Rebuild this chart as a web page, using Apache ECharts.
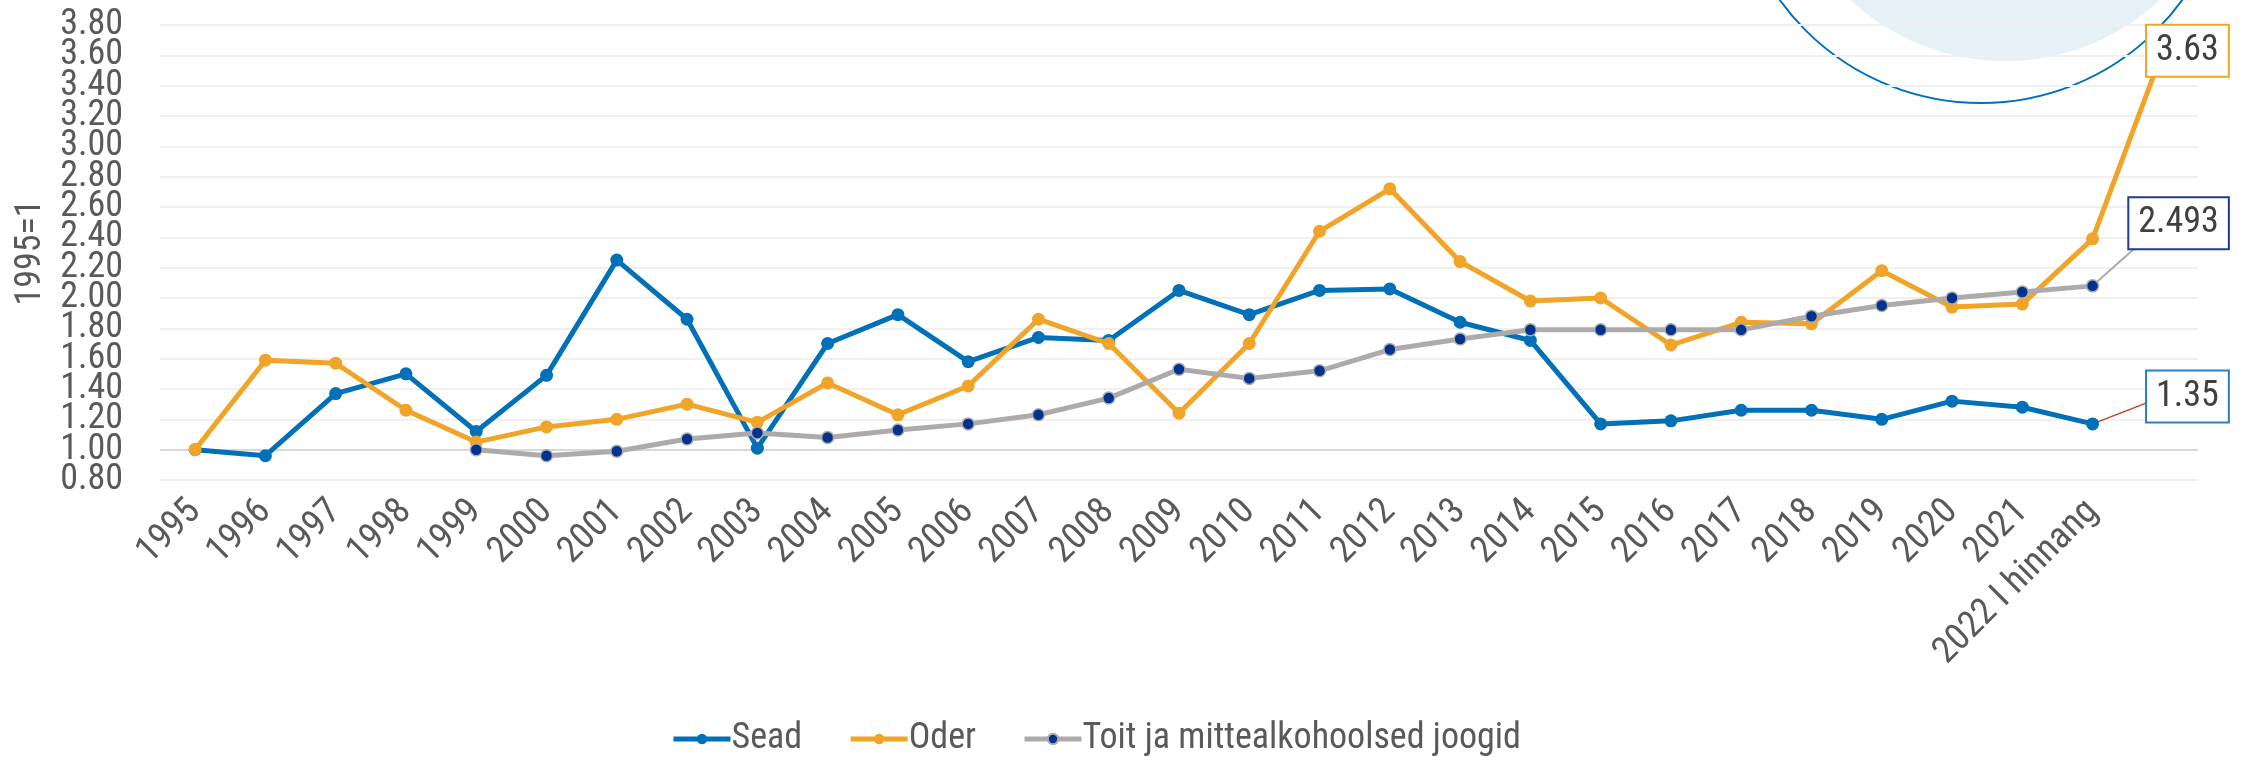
<!DOCTYPE html>
<html>
<head>
<meta charset="UTF-8">
<title>1995=1</title>
<style type="text/css">
    body,html{ margin:0; padding:0; width:2244px; height:757px; overflow:hidden; background:#fff;}
    #chart{ width:2244px; height:757px;}
</style>
</head>
<body>
<div id="chart"></div>
<script src="https://cdn.jsdelivr.net/npm/echarts@6/dist/echarts.min.js"></script>
<script type="text/javascript">
// aastad (viimane tühi koht on lõpusiltide jaoks)
var years = ['1995','1996','1997','1998','1999','2000','2001','2002','2003','2004','2005','2006','2007','2008',
    '2009','2010','2011','2012','2013','2014','2015','2016','2017','2018','2019','2020','2021','2022 I hinnang',''];
var sead = [1.00,0.96,1.37,1.50,1.12,1.49,2.25,1.86,1.01,1.70,1.89,1.58,1.74,1.72,
    2.05,1.89,2.05,2.06,1.84,1.72,1.17,1.19,1.26,1.26,1.20,1.32,1.28,1.17];
var oder = [1.00,1.59,1.57,1.26,1.05,1.15,1.20,1.30,1.18,1.44,1.23,1.42,1.86,1.70,
    1.24,1.70,2.44,2.72,2.24,1.98,2.00,1.69,1.84,1.83,2.18,1.94,1.96,2.39,3.63];
var toit = [null,null,null,null,1.00,0.96,0.99,1.07,1.11,1.08,1.13,1.17,1.23,1.34,
    1.53,1.47,1.52,1.66,1.73,1.79,1.79,1.79,1.79,1.88,1.95,2.00,2.04,2.08];
var seadEnd = 1.35;
var toitEnd = 2.493;
var yMin = 0.8, yMax = 3.8, yStep = 0.2;

var FONT = "'Liberation Sans Narrow', 'Roboto Condensed', Roboto, sans-serif";
var TXT = '#595959';

// lõpusiltide juhtjooned
function leader(arr, endVal) {
    var d = [];
    for (var i = 0; i < years.length; i++) d.push(null);
    d[arr.length - 1] = arr[arr.length - 1];
    d[years.length - 1] = endVal;
    return d;
}

function endLabel(border) {
    return {
        show: true,
        position: 'inside',
        align: 'right',
        verticalAlign: 'middle',
        offset: [65, 0],
        fontFamily: FONT,
        fontSize: 36,
        color: '#404040',
        backgroundColor: '#fff',
        borderColor: border,
        borderWidth: 2,
        padding: [8, 9, 6, 9],
        formatter: function (p) { return String(p.value); }
    };
}

var oderData = oder.map(function (v, i) {
    if (i === oder.length - 1) return { value: v, label: endLabel('#F0A428') };
    return v;
});
var seadLead = leader(sead, seadEnd).map(function (v, i) {
    if (i === years.length - 1) return { value: v, label: endLabel('#2F7BC4') };
    return v;
});
var toitLead = leader(toit, toitEnd).map(function (v, i) {
    if (i === years.length - 1) return { value: v, label: endLabel('#1F3C8C') };
    return v;
});

// 1.00 joon on tumedam
var gridColors = [];
for (var t = yMin; t <= yMax + 1e-6; t += yStep) {
    gridColors.push(Math.abs(t - 1) < 1e-6 ? '#D9D9D9' : '#F0F0F0');
}

var yLabel = {
    margin: 37, fontFamily: FONT, fontSize: 36, color: TXT,
    formatter: function (v) { return v.toFixed(2); }
};

var myChart = echarts.init(document.getElementById('chart'), null, { renderer: 'canvas' });
var option = {
    animation: false,
    textStyle: { fontFamily: FONT },
    graphic: [
        { type: 'circle', shape: { cx: 2005, cy: -166, r: 227 }, style: { fill: '#E5F0F7' }, z: 0 },
        { type: 'circle', shape: { cx: 1981, cy: -145, r: 248 }, style: { fill: 'none', stroke: '#0070C0', lineWidth: 2 }, z: 0 }
    ],
    grid: { left: 160, right: 46, top: 25, bottom: 277 },
    legend: {
        data: ['Sead', 'Oder', 'Toit ja mittealkohoolsed joogid'],
        left: 666,
        top: 716,
        itemWidth: 57,
        itemHeight: 13,
        itemGap: 46,
        lineStyle: { width: 5 },
        textStyle: { fontFamily: FONT, fontSize: 36, color: TXT, padding: [0, 0, 0, -4] }
    },
    xAxis: {
        type: 'category',
        data: years,
        boundaryGap: true,
        axisLine: { show: false },
        axisTick: { show: false },
        axisLabel: { rotate: 45, margin: 26, interval: 0, fontFamily: FONT, fontSize: 37, color: TXT }
    },
    yAxis: [
        {
            type: 'value',
            position: 'left',
            min: yMin,
            max: yMax,
            interval: yStep,
            name: '1995=1',
            nameLocation: 'middle',
            nameGap: 100,
            nameTextStyle: { fontFamily: FONT, fontSize: 36, color: TXT },
            axisLine: { show: false },
            axisTick: { show: false },
            axisLabel: Object.assign({ showMinLabel: false, showMaxLabel: false }, yLabel),
            splitLine: { lineStyle: { color: gridColors, width: 2 } }
        },
        {
            // ainult 0.80 ja 3.80 sildid (päätelg peidab need kattumise tõttu)
            type: 'value',
            position: 'left',
            min: yMin,
            max: yMax,
            interval: yMax - yMin,
            axisLine: { show: false },
            axisTick: { show: false },
            axisLabel: Object.assign({ showMinLabel: true, showMaxLabel: true }, yLabel),
            splitLine: { show: false }
        }
    ],
    series: [
        {
            name: 'Sead', type: 'line', data: sead,
            symbol: 'circle', symbolSize: 13,
            lineStyle: { color: '#0070B8', width: 5 },
            itemStyle: { color: '#0070B8' },
            z: 3
        },
        {
            name: 'Sead lõpp', type: 'line', data: seadLead,
            symbol: 'circle', symbolSize: 0, connectNulls: true,
            lineStyle: { color: '#B9452C', width: 1.5 },
            itemStyle: { color: '#B9452C' },
            z: 2
        },
        {
            name: 'Oder', type: 'line', data: oderData,
            symbol: 'circle', symbolSize: 13,
            lineStyle: { color: '#F0A428', width: 5 },
            itemStyle: { color: '#F0A428' },
            z: 4
        },
        {
            name: 'Toit ja mittealkohoolsed joogid', type: 'line', data: toit,
            symbol: 'circle', symbolSize: 12,
            lineStyle: { color: '#AEAAAA', width: 5 },
            itemStyle: { color: '#00338D', borderColor: '#AEAAAA', borderWidth: 1.5 },
            z: 5
        },
        {
            name: 'Toit lõpp', type: 'line', data: toitLead,
            symbol: 'circle', symbolSize: 0, connectNulls: true,
            lineStyle: { color: '#AEAAAA', width: 2 },
            itemStyle: { color: '#AEAAAA' },
            z: 2
        }
    ]
};
myChart.setOption(option);
</script>
</body>
</html>
